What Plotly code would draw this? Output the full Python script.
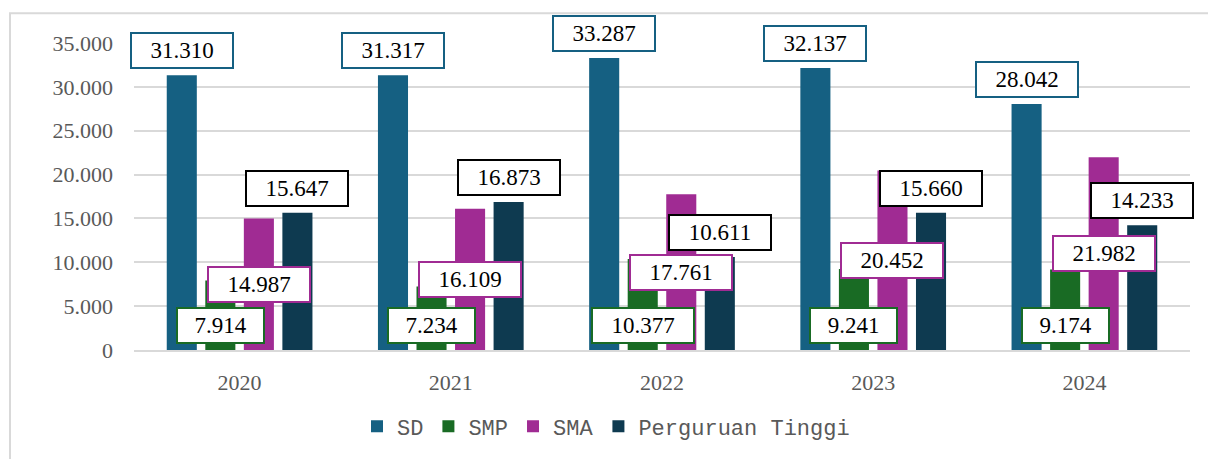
import plotly.graph_objects as go

# ---- data ----
years = ["2020", "2021", "2022", "2023", "2024"]
series_names = ["SD", "SMP", "SMA", "Perguruan Tinggi"]
sd = [31310, 31317, 33287, 32137, 28042]
smp = [7914, 7234, 10377, 9241, 9174]
sma = [14987, 16109, 17761, 20452, 21982]
pt = [15647, 16873, 10611, 15660, 14233]
y_tick_vals = [0, 5000, 10000, 15000, 20000, 25000, 30000, 35000]
y_tick_text = ["0", "5.000", "10.000", "15.000", "20.000", "25.000", "30.000", "35.000"]

# ---- style ----
colors = ["#156082", "#196B24", "#A02B93", "#0E3A50"]
label_borders = ["#156082", "#196B24", "#A02B93", "#000000"]
label_modes = ["end", "base", "center", "end"]  # Excel-like label positions

W, H = 1208, 459
ML, MR, MT, MB = 134, 18, 43, 107
BARGAP, GROUPGAP = 0.27, 0.22

values = [sd, smp, sma, pt]


def fmt(v):
    return f"{v:,}".replace(",", ".")


fig = go.Figure()
for name, vals, c in zip(series_names, values, colors):
    fig.add_trace(go.Bar(name=name, x=years, y=vals, marker=dict(color=c, line=dict(width=0)),
                         hoverinfo="x+y"))

plot_w = W - ML - MR
cat_px = plot_w / len(years)
slot_px = cat_px * (1 - BARGAP) / len(series_names)

annotations = []
for si, (vals, bc, mode) in enumerate(zip(values, label_borders, label_modes)):
    xshift = (si - (len(series_names) - 1) / 2) * slot_px
    for ci, v in enumerate(vals):
        txt = fmt(v)
        if mode == "end":
            y, ya, ys = v, "bottom", 6
        elif mode == "base":
            y, ya, ys = 0, "bottom", 6
        else:
            y, ya, ys = v / 2, "middle", 0
        annotations.append(dict(
            x=ci, y=y, xref="x", yref="y", text=txt, showarrow=False,
            xshift=xshift, yshift=ys, yanchor=ya, xanchor="center",
            width=15 * len(txt) + 8, height=31, align="center", valign="middle",
            font=dict(family="Liberation Serif", size=23, color="#000000"),
            bgcolor="#FFFFFF", bordercolor=bc, borderwidth=2, borderpad=1,
        ))

# chart outer border (left and top edges visible)
px2x = lambda p: (p - ML) / plot_w
py2y = lambda p: (H - MB - p) / (H - MT - MB)
shapes = [dict(type="rect", xref="paper", yref="paper",
               x0=px2x(10), x1=px2x(1230), y0=py2y(480), y1=py2y(13),
               line=dict(color="#D9D9D9", width=2), fillcolor="rgba(0,0,0,0)", layer="below")]

fig.update_layout(
    width=W, height=H,
    margin=dict(l=ML, r=MR, t=MT, b=MB),
    paper_bgcolor="#FFFFFF", plot_bgcolor="#FFFFFF",
    barmode="group", bargap=BARGAP, bargroupgap=GROUPGAP,
    annotations=annotations, shapes=shapes,
    showlegend=True,
    legend=dict(orientation="h", x=px2x(606), xanchor="center", y=py2y(429), yanchor="middle",
                font=dict(family="Liberation Mono", size=22, color="#595959"),
                itemwidth=30, traceorder="normal", bgcolor="rgba(0,0,0,0)"),
    xaxis=dict(type="category", range=[-0.5, len(years) - 0.5], showgrid=False,
               showline=True, linecolor="#D9D9D9", linewidth=2,
               ticks="", tickfont=dict(family="Liberation Serif", size=22, color="#595959"),
               ticklabelstandoff=12),
    yaxis=dict(range=[0, 35000], tickvals=y_tick_vals, ticktext=y_tick_text,
               showgrid=True, gridcolor="#D9D9D9", gridwidth=2, zeroline=False, showline=False,
               ticks="", tickfont=dict(family="Liberation Serif", size=22, color="#595959"),
               ticklabelstandoff=20),
)

fig.write_html("out.html", config={"displayModeBar": False},
               post_script="document.body.style.margin='0';document.body.style.padding='0';")
